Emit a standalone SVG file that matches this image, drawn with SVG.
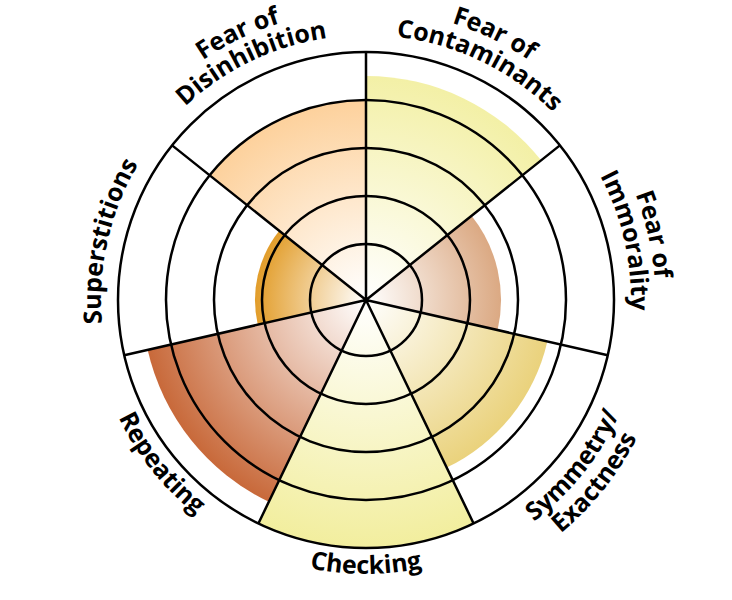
<svg xmlns="http://www.w3.org/2000/svg" xmlns:xlink="http://www.w3.org/1999/xlink" width="732" height="600" viewBox="0 0 732 600">
<style>
.ln{fill:none;stroke:#000;stroke-width:2.5}
.lb{font-family:"Open Sans","Noto Sans","DejaVu Sans",sans-serif;font-weight:700;font-size:25px;fill:#000}
</style>
<defs>
<radialGradient id="gC" gradientUnits="userSpaceOnUse" cx="366" cy="300" r="224"><stop offset="0" stop-color="#fff"/><stop offset="1" stop-color="#f3f0a6"/></radialGradient>
<radialGradient id="gI" gradientUnits="userSpaceOnUse" cx="366" cy="300" r="135"><stop offset="0" stop-color="#fff"/><stop offset="1" stop-color="#dba983"/></radialGradient>
<radialGradient id="gS" gradientUnits="userSpaceOnUse" cx="366" cy="300" r="186"><stop offset="0" stop-color="#fff"/><stop offset="1" stop-color="#ead27c"/></radialGradient>
<radialGradient id="gK" gradientUnits="userSpaceOnUse" cx="366" cy="300" r="248"><stop offset="0" stop-color="#fff"/><stop offset="1" stop-color="#f2ee9e"/></radialGradient>
<radialGradient id="gR" gradientUnits="userSpaceOnUse" cx="366" cy="300" r="224"><stop offset="0" stop-color="#fff"/><stop offset="1" stop-color="#c8693a"/></radialGradient>
<radialGradient id="gU" gradientUnits="userSpaceOnUse" cx="366" cy="300" r="111"><stop offset="0" stop-color="#fff"/><stop offset="1" stop-color="#e29d2a"/></radialGradient>
<radialGradient id="gD" gradientUnits="userSpaceOnUse" cx="366" cy="300" r="200"><stop offset="0" stop-color="#fff"/><stop offset="1" stop-color="#fdd19c"/></radialGradient>
<path id="pC1" d="M103.82,173.74 A291,291 0 0 1 628.18,426.26"/>
<path id="pC2" d="M127.24,185.02 A265,265 0 0 1 604.76,414.98"/>
<path id="pI1" d="M301.25,16.30 A291,291 0 0 1 430.75,583.70"/>
<path id="pI2" d="M307.03,41.64 A265,265 0 0 1 424.97,558.36"/>
<path id="pS1" d="M192.67,517.35 A278,278 0 0 0 539.33,82.65"/>
<path id="pS2" d="M176.46,537.68 A304,304 0 0 0 555.54,62.32"/>
<path id="pK" d="M92,300 A274,274 0 0 0 640,300"/>
<path id="pR" d="M194.54,85.00 A275,275 0 0 0 537.46,515.00"/>
<path id="pU" d="M307.03,558.36 A265,265 0 0 1 424.97,41.64"/>
<path id="pD1" d="M103.82,426.26 A291,291 0 0 1 628.18,173.74"/>
<path id="pD2" d="M127.24,414.98 A265,265 0 0 1 604.76,185.02"/>
</defs>
<rect width="732" height="600" fill="#fff"/>
<g id="fills">
<path id="fill-contaminants" fill="url(#gC)" d="M366,300 L366,76 A224,224 0 0 1 541.13,160.34 Z"/>
<path id="fill-immorality" fill="url(#gI)" d="M366,300 L471.55,215.83 A135,135 0 0 1 497.62,330.04 Z"/>
<path id="fill-symmetry" fill="url(#gS)" d="M366,300 L547.34,341.39 A186,186 0 0 1 446.70,467.58 Z"/>
<path id="fill-checking" fill="url(#gK)" d="M366,300 L473.60,523.44 A248,248 0 0 1 258.40,523.44 Z"/>
<path id="fill-repeating" fill="url(#gR)" d="M366,300 L268.81,501.82 A224,224 0 0 1 147.62,349.84 Z"/>
<path id="fill-superstitions" fill="url(#gU)" d="M366,300 L257.78,324.70 A111,111 0 0 1 279.22,230.79 Z"/>
<path id="fill-disinhibition" fill="url(#gD)" d="M366,300 L209.63,175.30 A200,200 0 0 1 366,100 Z"/>
</g>
<g id="grid">
<circle class="ln" cx="366" cy="300" r="56"/>
<circle class="ln" cx="366" cy="300" r="104"/>
<circle class="ln" cx="366" cy="300" r="152"/>
<circle class="ln" cx="366" cy="300" r="200"/>
<circle class="ln" cx="366" cy="300" r="248"/>
</g>
<g id="connectors">
<path class="ln" d="M366,300 L366,52 M366,300 L559.89,145.37 M366,300 L607.78,355.18 M366,300 L473.60,523.44 M366,300 L258.40,523.44 M366,300 L124.22,355.18 M366,300 L172.11,145.37"/>
</g>
<g id="node-contaminants"><text class="lb" text-anchor="middle"><textPath xlink:href="#pC1" href="#pC1" startOffset="50%">Fear of</textPath></text><text class="lb" text-anchor="middle"><textPath xlink:href="#pC2" href="#pC2" startOffset="50%">Contaminants</textPath></text></g>
<g id="node-immorality"><text class="lb" text-anchor="middle"><textPath xlink:href="#pI1" href="#pI1" startOffset="50%">Fear of</textPath></text><text class="lb" text-anchor="middle"><textPath xlink:href="#pI2" href="#pI2" startOffset="50%">Immorality</textPath></text></g>
<g id="node-symmetry"><text class="lb" text-anchor="middle"><textPath xlink:href="#pS1" href="#pS1" startOffset="50%">Symmetry/</textPath></text><text class="lb" text-anchor="middle"><textPath xlink:href="#pS2" href="#pS2" startOffset="50%">Exactness</textPath></text></g>
<g id="node-checking"><text class="lb" text-anchor="middle"><textPath xlink:href="#pK" href="#pK" startOffset="50%">Checking</textPath></text></g>
<g id="node-repeating"><text class="lb" text-anchor="middle"><textPath xlink:href="#pR" href="#pR" startOffset="50%">Repeating</textPath></text></g>
<g id="node-superstitions"><text class="lb" text-anchor="middle"><textPath xlink:href="#pU" href="#pU" startOffset="50%">Superstitions</textPath></text></g>
<g id="node-disinhibition"><text class="lb" text-anchor="middle"><textPath xlink:href="#pD1" href="#pD1" startOffset="50%">Fear of</textPath></text><text class="lb" text-anchor="middle"><textPath xlink:href="#pD2" href="#pD2" startOffset="50%">Disinhibition</textPath></text></g>
</svg>
